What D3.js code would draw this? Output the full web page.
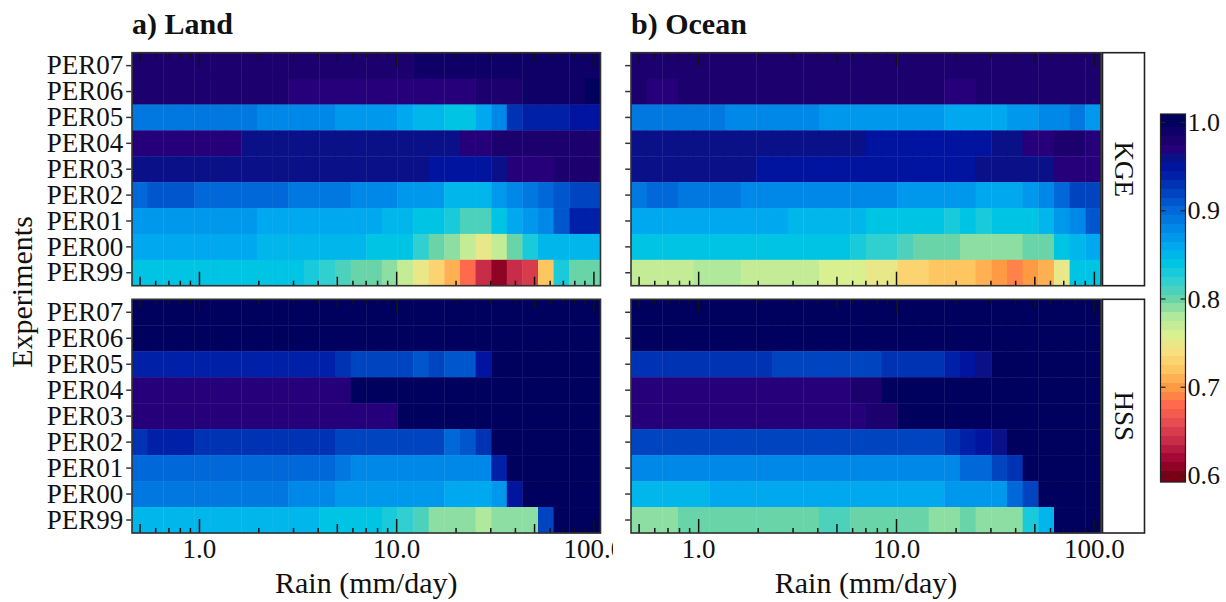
<!DOCTYPE html>
<html><head><meta charset="utf-8">
<script src="https://cdn.jsdelivr.net/npm/d3@7/dist/d3.min.js"></script>
<style>body{margin:0;background:#fff;}</style>
</head><body><svg id="c" width="1226" height="602" font-family="Liberation Serif, Times New Roman, serif"></svg>
<script>
// ---------------- DATA ----------------
const experiments = ["PER07","PER06","PER05","PER04","PER03","PER02","PER01","PER00","PER99"];
const regions = ["Land","Ocean"];
const regionTitles = ["a) Land","b) Ocean"];
const metrics = ["KGE","HSS"];
// rain bin edges (mm/day), log-spaced bins
const rainEdges = [0.455,0.546,0.655,0.786,0.943,1.132,1.358,1.630,1.956,2.347,2.816,3.380,4.056,4.867,5.840,7.008,8.410,10.09,12.11,14.53,17.44,20.93,25.11,30.14,36.16,43.39,52.07,62.49,74.98,89.98,108.0];
const majorTicks = [1,10,100];
const midTicks = [0.5,5,50];
const minorTicks = [0.6,0.7,0.8,0.9,2,3,4,6,7,8,9,20,30,40,60,70,80,90];
const xTickLabels = ["1.0","10.0","100.0"];
const colorbarTicks = [0.6,0.7,0.8,0.9,1.0];
const colorbarLabels = ["0.6","0.7","0.8","0.9","1.0"];
const paletteValues = [0.60,0.62,0.64,0.66,0.68,0.70,0.72,0.74,0.76,0.78,0.80,0.82,0.84,0.86,0.88,0.90,0.92,0.94,0.95,0.96,0.97,0.98,1.00];
const paletteColors = ["#7a0016","#a40834","#c82c48","#e84c50","#ff6a4c","#ff9a44","#fec660","#f8e080","#d8f090","#b0e89c","#68d4a8","#30d0d0","#00c4e4","#00a8f0","#0088e8","#0068d8","#0044c0","#0020a8","#0014a0","#0a1088","#26007a","#1c006e","#00005e"];

// rows in experiment order PER07 ... PER99, 30 rain bins each
const landKGE = [
 [0.98,0.98,0.98,0.98,0.98,0.98,0.98,0.98,0.98,0.98,0.98,0.98,0.98,0.98,0.98,0.98,0.98,0.98,0.99,0.99,0.99,0.99,0.99,0.99,0.99,0.99,0.99,0.99,0.99,0.99],
 [0.98,0.98,0.98,0.98,0.98,0.98,0.98,0.98,0.98,0.98,0.97,0.97,0.97,0.97,0.97,0.97,0.97,0.97,0.97,0.97,0.97,0.97,0.98,0.98,0.98,0.99,0.99,0.99,0.99,1.00],
 [0.89,0.89,0.89,0.89,0.89,0.89,0.89,0.89,0.88,0.88,0.88,0.88,0.88,0.87,0.87,0.87,0.87,0.86,0.85,0.85,0.84,0.84,0.86,0.88,0.93,0.94,0.94,0.94,0.95,0.95],
 [0.97,0.97,0.97,0.97,0.97,0.97,0.97,0.96,0.96,0.96,0.96,0.96,0.96,0.96,0.96,0.96,0.96,0.96,0.96,0.96,0.96,0.97,0.97,0.98,0.98,0.98,0.98,0.98,0.98,0.98],
 [0.96,0.96,0.96,0.96,0.96,0.96,0.96,0.96,0.96,0.96,0.96,0.96,0.96,0.96,0.96,0.96,0.96,0.96,0.96,0.95,0.95,0.95,0.95,0.96,0.97,0.97,0.97,0.98,0.98,0.98],
 [0.90,0.91,0.91,0.91,0.90,0.90,0.90,0.90,0.90,0.90,0.89,0.89,0.89,0.89,0.88,0.88,0.88,0.87,0.87,0.87,0.85,0.85,0.85,0.87,0.88,0.89,0.90,0.91,0.92,0.92],
 [0.87,0.87,0.87,0.87,0.87,0.87,0.87,0.87,0.86,0.86,0.86,0.86,0.86,0.86,0.86,0.86,0.85,0.85,0.84,0.84,0.83,0.81,0.81,0.84,0.86,0.87,0.88,0.91,0.94,0.94],
 [0.86,0.86,0.86,0.86,0.86,0.86,0.86,0.86,0.85,0.85,0.85,0.85,0.85,0.85,0.85,0.84,0.84,0.84,0.82,0.80,0.79,0.77,0.75,0.77,0.80,0.83,0.85,0.85,0.85,0.85],
 [0.84,0.84,0.84,0.84,0.84,0.84,0.84,0.84,0.84,0.84,0.84,0.83,0.82,0.81,0.80,0.80,0.79,0.77,0.75,0.73,0.71,0.68,0.64,0.61,0.64,0.65,0.72,0.83,0.80,0.80]
];
const landHSS = [
 [1,1,1,1,1,1,1,1,1,1,1,1,1,1,1,1,1,1,1,1,1,1,1,1,1,1,1,1,1,1],
 [1,1,1,1,1,1,1,1,1,1,1,1,1,1,1,1,1,1,1,1,1,1,1,1,1,1,1,1,1,1],
 [0.94,0.94,0.94,0.94,0.94,0.94,0.94,0.94,0.94,0.94,0.94,0.94,0.94,0.93,0.92,0.92,0.92,0.92,0.91,0.92,0.91,0.91,0.95,1,1,1,1,1,1,1],
 [0.97,0.97,0.97,0.97,0.97,0.97,0.97,0.97,0.97,0.97,0.97,0.97,0.97,0.97,1,1,1,1,1,1,1,1,1,1,1,1,1,1,1,1],
 [0.97,0.97,0.97,0.97,0.97,0.97,0.97,0.97,0.97,0.97,0.97,0.97,0.97,0.97,0.97,0.97,0.97,1,1,1,1,1,1,1,1,1,1,1,1,1],
 [0.93,0.94,0.94,0.94,0.93,0.93,0.93,0.93,0.93,0.93,0.93,0.93,0.93,0.92,0.92,0.92,0.92,0.92,0.92,0.92,0.90,0.91,0.93,1,1,1,1,1,1,1],
 [0.90,0.90,0.90,0.90,0.90,0.90,0.90,0.90,0.90,0.90,0.90,0.90,0.90,0.89,0.88,0.88,0.88,0.88,0.88,0.88,0.88,0.88,0.88,0.94,1,1,1,1,1,1],
 [0.89,0.89,0.89,0.89,0.89,0.89,0.89,0.89,0.89,0.89,0.88,0.88,0.88,0.87,0.87,0.87,0.87,0.87,0.87,0.87,0.86,0.86,0.86,0.87,0.95,1,1,1,1,1],
 [0.85,0.85,0.85,0.85,0.85,0.85,0.85,0.85,0.85,0.85,0.85,0.85,0.84,0.84,0.84,0.84,0.83,0.82,0.81,0.79,0.79,0.79,0.78,0.79,0.79,0.79,0.92,1,1,1]
];
const oceanKGE = [
 [0.98,0.98,0.98,0.98,0.98,0.98,0.98,0.98,0.98,0.98,0.98,0.98,0.98,0.98,0.98,0.98,0.98,0.98,0.98,0.98,0.98,0.98,0.98,0.98,0.98,0.98,0.98,0.98,0.98,0.98],
 [0.98,0.97,0.97,0.98,0.98,0.98,0.98,0.98,0.98,0.98,0.98,0.98,0.98,0.98,0.98,0.98,0.98,0.98,0.98,0.98,0.97,0.97,0.98,0.98,0.98,0.98,0.98,0.98,0.98,0.98],
 [0.89,0.89,0.89,0.89,0.89,0.89,0.88,0.88,0.88,0.88,0.88,0.88,0.87,0.87,0.87,0.87,0.87,0.87,0.87,0.87,0.86,0.86,0.86,0.86,0.87,0.87,0.88,0.88,0.89,0.87],
 [0.96,0.96,0.96,0.96,0.96,0.96,0.96,0.96,0.96,0.96,0.96,0.96,0.96,0.96,0.96,0.95,0.95,0.95,0.95,0.95,0.95,0.95,0.95,0.96,0.96,0.97,0.97,0.98,0.98,0.97],
 [0.96,0.96,0.96,0.96,0.96,0.96,0.96,0.96,0.95,0.95,0.95,0.95,0.95,0.95,0.95,0.95,0.95,0.95,0.95,0.95,0.95,0.95,0.96,0.96,0.96,0.96,0.96,0.97,0.97,0.97],
 [0.89,0.90,0.90,0.89,0.89,0.89,0.89,0.88,0.88,0.88,0.88,0.88,0.88,0.88,0.88,0.88,0.88,0.87,0.87,0.87,0.87,0.87,0.86,0.86,0.86,0.87,0.88,0.90,0.92,0.92],
 [0.86,0.86,0.86,0.86,0.86,0.86,0.86,0.86,0.86,0.86,0.85,0.85,0.85,0.85,0.85,0.84,0.84,0.84,0.84,0.84,0.83,0.84,0.83,0.84,0.84,0.84,0.85,0.87,0.88,0.91],
 [0.84,0.84,0.84,0.84,0.84,0.84,0.84,0.84,0.84,0.84,0.84,0.84,0.84,0.84,0.83,0.82,0.82,0.81,0.80,0.80,0.80,0.79,0.79,0.79,0.79,0.80,0.80,0.84,0.85,0.86],
 [0.77,0.77,0.77,0.77,0.78,0.78,0.78,0.77,0.77,0.77,0.77,0.77,0.76,0.76,0.76,0.75,0.75,0.73,0.73,0.72,0.72,0.72,0.71,0.70,0.69,0.70,0.71,0.75,0.84,0.84]
];
const oceanHSS = [
 [1,1,1,1,1,1,1,1,1,1,1,1,1,1,1,1,1,1,1,1,1,1,1,1,1,1,1,1,1,1],
 [1,1,1,1,1,1,1,1,1,1,1,1,1,1,1,1,1,1,1,1,1,1,1,1,1,1,1,1,1,1],
 [0.93,0.93,0.93,0.93,0.93,0.93,0.93,0.93,0.93,0.92,0.92,0.92,0.92,0.92,0.92,0.92,0.93,0.93,0.93,0.93,0.94,0.95,0.96,1,1,1,1,1,1,1],
 [0.97,0.97,0.97,0.97,0.97,0.97,0.97,0.97,0.97,0.97,0.97,0.97,0.97,0.97,0.98,0.98,1,1,1,1,1,1,1,1,1,1,1,1,1,1],
 [0.97,0.97,0.97,0.97,0.97,0.97,0.97,0.97,0.97,0.97,0.97,0.97,0.97,0.97,0.97,0.98,0.98,1,1,1,1,1,1,1,1,1,1,1,1,1],
 [0.92,0.92,0.92,0.92,0.92,0.92,0.92,0.92,0.92,0.92,0.92,0.92,0.92,0.92,0.92,0.92,0.92,0.92,0.92,0.92,0.93,0.94,0.95,0.96,1,1,1,1,1,1],
 [0.88,0.88,0.88,0.88,0.88,0.88,0.88,0.88,0.88,0.88,0.88,0.88,0.88,0.88,0.88,0.88,0.88,0.88,0.88,0.88,0.88,0.90,0.90,0.92,0.93,1,1,1,1,1],
 [0.85,0.85,0.85,0.85,0.85,0.86,0.86,0.86,0.86,0.86,0.86,0.86,0.86,0.86,0.86,0.86,0.86,0.86,0.86,0.86,0.87,0.87,0.87,0.87,0.90,0.92,1,1,1,1],
 [0.79,0.79,0.79,0.80,0.80,0.80,0.80,0.80,0.80,0.80,0.80,0.80,0.81,0.81,0.80,0.80,0.80,0.80,0.80,0.79,0.79,0.80,0.79,0.79,0.79,0.83,0.85,1,1,1]
];
const panelData = {Land:{KGE:landKGE,HSS:landHSS}, Ocean:{KGE:oceanKGE,HSS:oceanHSS}};

// ---------------- LAYOUT ----------------
const svg = d3.select("#c");
const FONT = "Liberation Serif, Times New Roman, serif";
const panelX = {Land:[132,600.5], Ocean:[631,1101]};
const panelY = {KGE:[52.7,285.7], HSS:[299.3,533]};
const color = d3.scaleLinear().domain(paletteValues).range(paletteColors).interpolate(d3.interpolateRgb).clamp(true);
function txt(sel){ return sel.append("text").attr("font-family",FONT).attr("fill","#111"); }

const defs = svg.append("defs");
defs.append("clipPath").attr("id","landAxisClip").append("rect").attr("x",0).attr("y",0).attr("width",613).attr("height",602);

regions.forEach((reg,ri)=>{
  const xs = d3.scaleLog().domain([rainEdges[0], rainEdges[rainEdges.length-1]]).range(panelX[reg]);
  txt(svg).attr("x",panelX[reg][0]).attr("y",34)
    .attr("font-size",30).attr("font-weight","bold").text(regionTitles[ri]);
  metrics.forEach((met,mi)=>{
    const ys = d3.scaleBand().domain(experiments).range(panelY[met]).padding(0);
    const g = svg.append("g");
    const data = panelData[reg][met];
    experiments.forEach((ex,r)=>{
      g.selectAll(null).data(data[r]).enter().append("rect")
        .attr("x",(d,c)=>xs(rainEdges[c]))
        .attr("width",(d,c)=>xs(rainEdges[c+1])-xs(rainEdges[c])+0.4)
        .attr("y",ys(ex)).attr("height",ys.bandwidth()+0.4)
        .attr("fill",d=>color(d));
    });
    const [y0,y1] = panelY[met];
    const tickSets = [[majorTicks,14],[midTicks,9],[minorTicks,5]];
    tickSets.forEach(([vals,len])=>{
      vals.forEach(v=>{
        const x = xs(v);
        g.append("line").attr("x1",x).attr("x2",x).attr("y1",y0).attr("y2",y0+len).attr("stroke","#111").attr("stroke-width",1.5);
        g.append("line").attr("x1",x).attr("x2",x).attr("y1",y1).attr("y2",y1-len).attr("stroke","#111").attr("stroke-width",1.5);
      });
    });
    g.append("rect").attr("x",panelX[reg][0]).attr("y",y0).attr("width",panelX[reg][1]-panelX[reg][0]).attr("height",y1-y0)
      .attr("fill","none").attr("stroke","#333").attr("stroke-width",1.6);
    const ax = d3.axisLeft(ys).tickSize(5).tickPadding(3);
    if (reg==="Ocean") ax.tickFormat("");
    const ag = svg.append("g").attr("transform",`translate(${panelX[reg][0]-0.8},0)`).call(ax);
    ag.attr("font-family",FONT).attr("font-size",27);
    ag.select(".domain").remove();
    ag.selectAll(".tick line").attr("stroke","#333").attr("stroke-width",1.5);
    ag.selectAll(".tick text").attr("fill","#111");
    if (reg==="Ocean") {
      svg.append("rect").attr("x",1102.5).attr("y",y0).attr("width",42).attr("height",y1-y0)
        .attr("fill","#fff").attr("stroke","#222").attr("stroke-width",1.6);
      const cy=(y0+y1)/2;
      txt(svg).attr("transform",`translate(1123.5,${cy}) rotate(90)`)
        .attr("text-anchor","middle").attr("dominant-baseline","central").attr("font-size",27).text(met);
    }
  });
  const lg = svg.append("g");
  if (reg==="Land") lg.attr("clip-path","url(#landAxisClip)");
  majorTicks.forEach((v,i)=>{
    txt(lg).attr("x",xs(v)).attr("y",558).attr("text-anchor","middle").attr("font-size",27).text(xTickLabels[i]);
  });
  txt(svg).attr("x",(panelX[reg][0]+panelX[reg][1])/2).attr("y",593).attr("text-anchor","middle")
    .attr("font-size",30).text("Rain (mm/day)");
});

txt(svg).attr("transform","translate(32,292) rotate(-90)").attr("text-anchor","middle").attr("font-size",30).text("Experiments");

// colorbar
const cb = {x:1160.5, w:25, top:114, bottom:482};
const cs = d3.scaleLinear().domain([0.6,1.0]).range([475.5,122.5]);
const cbg = svg.append("g");
const slices = d3.range(cb.top, cb.bottom, 1);
cbg.selectAll(null).data(slices).enter().append("rect")
  .attr("x",cb.x).attr("width",cb.w).attr("y",d=>d).attr("height",1.2)
  .attr("fill",d=>{ let v = Math.round(cs.invert(d+0.5)*100)/100; v=Math.max(0.6,Math.min(1.0,v)); return color(v);});
cbg.append("rect").attr("x",cb.x).attr("y",cb.top).attr("width",cb.w).attr("height",cb.bottom-cb.top)
  .attr("fill","none").attr("stroke","#222").attr("stroke-width",1.2);
colorbarTicks.forEach((v,i)=>{
  const y = cs(v);
  cbg.append("line").attr("x1",cb.x).attr("x2",cb.x+5).attr("y1",y).attr("y2",y).attr("stroke","#222").attr("stroke-width",1.2);
  cbg.append("line").attr("x1",cb.x+cb.w-5).attr("x2",cb.x+cb.w).attr("y1",y).attr("y2",y).attr("stroke","#222").attr("stroke-width",1.2);
  txt(cbg).attr("x",cb.x+cb.w+2).attr("y",y).attr("dominant-baseline","central").attr("font-size",26).text(colorbarLabels[i]);
});
</script></body></html>
